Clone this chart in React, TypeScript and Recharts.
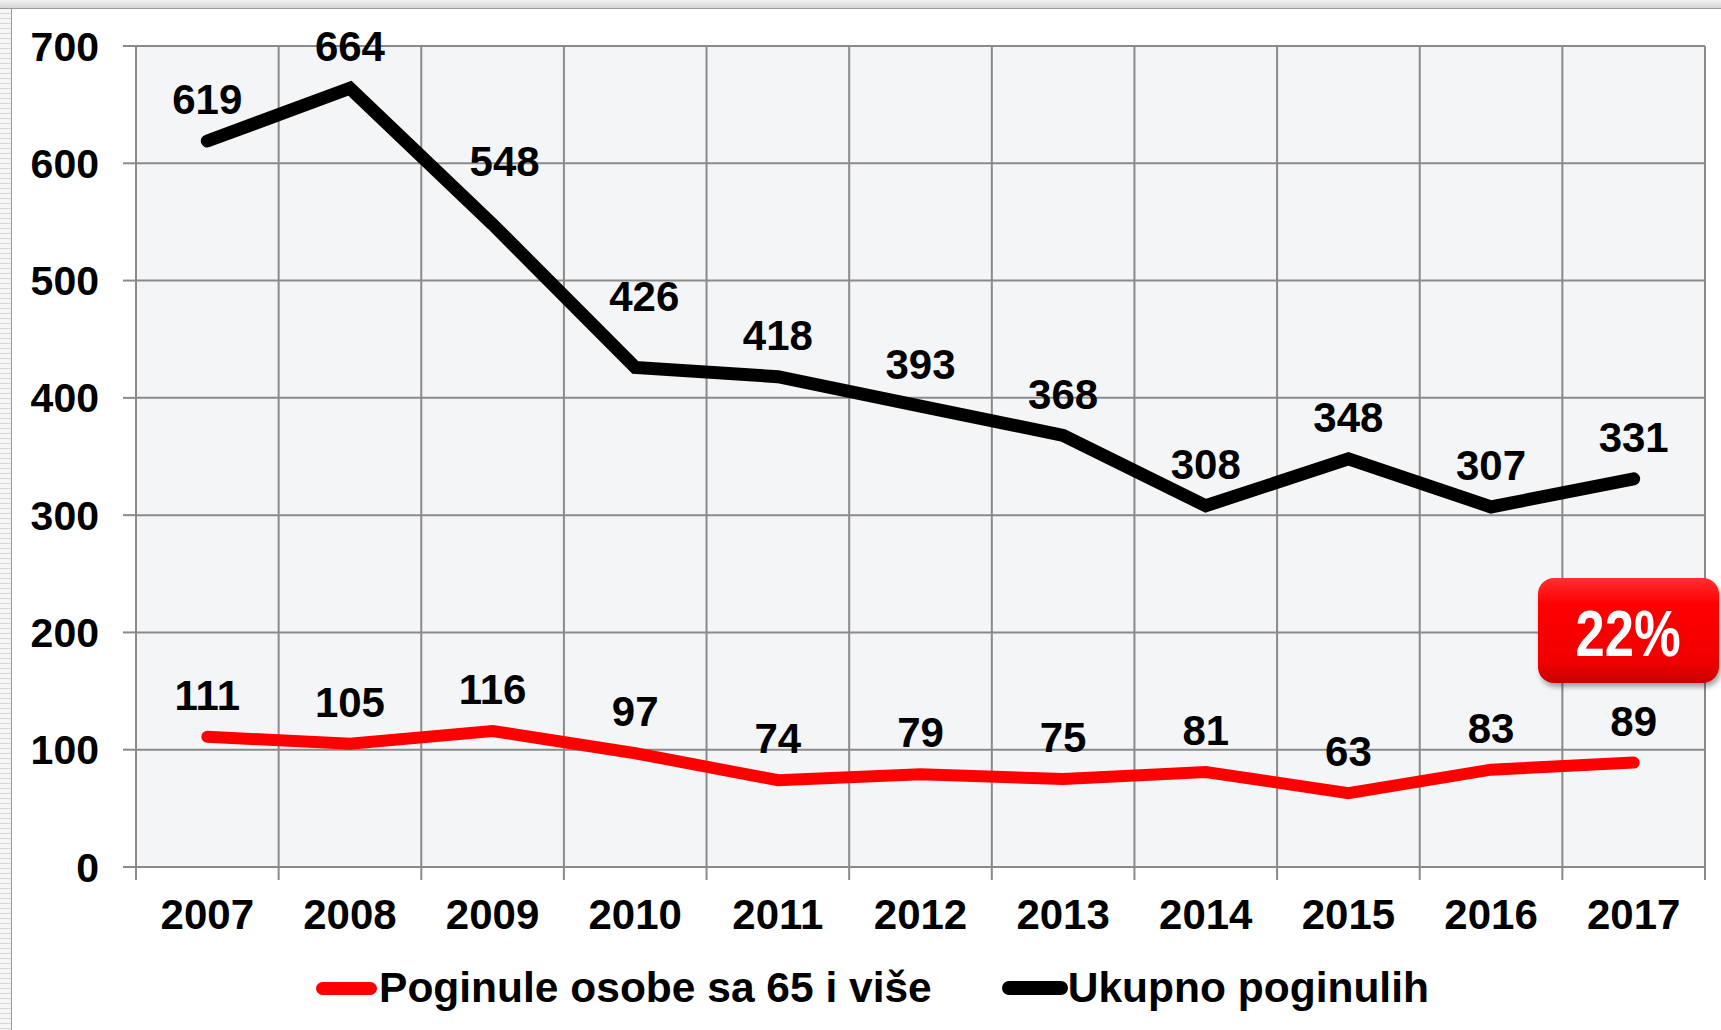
import React from 'react';
import {
  CartesianGrid,
  LabelList,
  Legend,
  Line,
  LineChart,
  XAxis,
  YAxis,
} from 'recharts';

const years = ['2007', '2008', '2009', '2010', '2011', '2012', '2013', '2014', '2015', '2016', '2017'];
const seniorDeaths = [111, 105, 116, 97, 74, 79, 75, 81, 63, 83, 89];
const totalDeaths = [619, 664, 548, 426, 418, 393, 368, 308, 348, 307, 331];
const yTicks = [0, 100, 200, 300, 400, 500, 600, 700];
const seniorShare = '22%';

// category edges, used for the vertical grid and the x tick marks
const bandEdges = [...years.map((_, i) => i - 0.5), years.length - 0.5];

const data = years.map((year, i) => ({
  idx: i,
  year,
  senior: seniorDeaths[i],
  total: totalDeaths[i],
}));

const FONT = '"Liberation Sans", Arial, sans-serif';
const GRID = '#8a8a8a';
const RED = '#ff0000';

// two labels on the total line were dragged a bit in the original
const totalLabelNudge: Record<number, { dx: number; up: number }> = {
  2: { dx: 12, up: 21 },
  3: { dx: 9, up: 29 },
};

const makeLabel = (nudge: Record<number, { dx: number; up: number }>) => (props: any) => {
  const { x, y, value, index } = props;
  const n = nudge[index] ?? { dx: 0, up: 0 };
  return (
    <text
      x={x + n.dx}
      y={y - 42 - n.up}
      dy="0.36em"
      textAnchor="middle"
      fontFamily={FONT}
      fontWeight="bold"
      fontSize={42}
      fill="#000"
    >
      {value}
    </text>
  );
};

const YearTick = (props: any) => {
  const { x, y, payload, width } = props;
  const i = Math.round(payload.value + 0.5);
  if (i >= years.length) return null;
  const half = width / years.length / 2;
  return (
    <text
      x={x + half}
      y={y}
      dy="0.71em"
      textAnchor="middle"
      fontFamily={FONT}
      fontWeight="bold"
      fontSize={42}
      fill="#000"
    >
      {years[i]}
    </text>
  );
};

const LegendBox = () => (
  <div
    style={{
      height: 84,
      display: 'flex',
      alignItems: 'center',
      justifyContent: 'center',
      paddingLeft: 40,
      boxSizing: 'border-box',
      fontFamily: FONT,
      fontWeight: 'bold',
      fontSize: 42.5,
      color: '#000',
    }}
  >
    <span style={{ width: 61, height: 13, borderRadius: 7, background: RED, marginRight: 2 }} />
    <span>Poginule osobe sa 65 i više</span>
    <span style={{ width: 66, height: 14, borderRadius: 7, background: '#000', marginLeft: 70 }} />
    <span>Ukupno poginulih</span>
  </div>
);

const App: React.FC = () => {
  return (
    <div style={{ position: 'absolute', left: 0, top: 0, width: 1721, height: 1030, background: '#fff', overflow: 'hidden' }}>
      {/* sheet edges */}
      <div
        style={{
          position: 'absolute', left: 0, top: 0, width: 1721, height: 8,
          background: 'linear-gradient(#f2f2f2, #d6d6d6)', borderBottom: '1px solid #9a9a9a',
        }}
      />
      <div
        style={{
          position: 'absolute', left: 0, top: 9, width: 11, height: 1021,
          background: 'repeating-linear-gradient(#f6f6f6 0px, #f6f6f6 4px, #d8d8d8 4px, #d8d8d8 5px)',
          borderRight: '1px solid #9a9a9a',
        }}
      />

      <div style={{ position: 'absolute', left: 0, top: 0 }}>
        <LineChart
          width={1721}
          height={1030}
          data={data}
          margin={{ top: 46, right: 16, bottom: 0, left: 0 }}
        >
          <CartesianGrid stroke={GRID} strokeWidth={2} fill="#f4f5f7" fillOpacity={1} />
          <XAxis
            type="number"
            dataKey="idx"
            domain={[bandEdges[0], bandEdges[bandEdges.length - 1]]}
            ticks={bandEdges}
            interval={0}
            allowDecimals
            axisLine={false}
            tickLine={{ stroke: GRID, strokeWidth: 2 }}
            tickSize={13}
            tickMargin={19}
            height={79}
            tick={<YearTick />}
          />
          <YAxis
            domain={[0, 700]}
            ticks={yTicks}
            interval={0}
            width={136}
            axisLine={false}
            tickLine={{ stroke: GRID, strokeWidth: 2 }}
            tickSize={13}
            tickMargin={24}
            tick={{ fontFamily: FONT, fontWeight: 'bold', fontSize: 41, fill: '#000' }}
          />
          <Legend verticalAlign="bottom" content={() => <LegendBox />} />
          <Line
            type="linear"
            dataKey="senior"
            stroke={RED}
            strokeWidth={12}
            strokeLinecap="round"
            dot={false}
            activeDot={false}
            isAnimationActive={false}
          >
            <LabelList dataKey="senior" content={makeLabel({})} />
          </Line>
          <Line
            type="linear"
            dataKey="total"
            stroke="#000"
            strokeWidth={13}
            strokeLinecap="round"
            dot={false}
            activeDot={false}
            isAnimationActive={false}
          >
            <LabelList dataKey="total" content={makeLabel(totalLabelNudge)} />
          </Line>
        </LineChart>
      </div>

      {/* share badge */}
      <div
        style={{
          position: 'absolute', left: 1538, top: 578, width: 181, height: 105,
          borderRadius: 16, boxSizing: 'border-box',
          background: 'linear-gradient(#ff3030 0%, #ff0000 25%, #f00000 80%, #c80000 100%)',
          boxShadow: '2px 4px 5px rgba(0,0,0,0.35)',
          display: 'flex', alignItems: 'center', justifyContent: 'center',
          color: '#fff', fontFamily: FONT, fontWeight: 'bold', fontSize: 64,
        }}
      >
        <span style={{ display: 'inline-block', transform: 'scaleX(0.82) translateY(3px)' }}>{seniorShare}</span>
      </div>
    </div>
  );
};

export default App;
